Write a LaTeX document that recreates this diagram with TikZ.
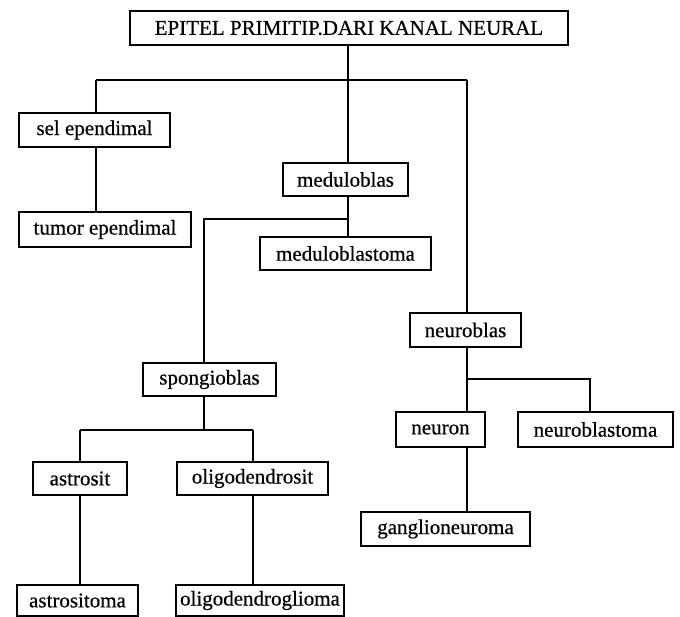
\documentclass[tikz,border=0pt]{standalone}
\usepackage{fontspec}
\setmainfont{Liberation Serif}
\newfontfamily\boxfont[FakeBold=0.5]{Liberation Serif}
\begin{document}
\begin{tikzpicture}[x=1pt,y={(0pt,-1pt)},
  box/.style={draw,line width=1.7pt,rectangle,inner sep=0pt,align=center,
    font=\boxfont\fontsize{21}{25}\selectfont},
  link/.style={line width=1.7pt}]
\useasboundingbox[fill=white] (0,0) rectangle (680,617);
% nodes
\node[box,minimum width=438pt,minimum height=34pt] (top) at (349,28) {EPITEL PRIMITIP.DARI KANAL NEURAL};
\node[box,minimum width=151pt,minimum height=34pt] (sel) at (94.5,130) {sel ependimal};
\node[box,minimum width=172pt,minimum height=35pt] (tum) at (105,229.5) {tumor ependimal};
\node[box,minimum width=125pt,minimum height=33pt] (medb) at (345.5,179.5) {meduloblas};
\node[box,minimum width=171pt,minimum height=33pt] (medbt) at (345.5,253.5) {meduloblastoma};
\node[box,minimum width=111pt,minimum height=34pt] (nb) at (465.5,330) {neuroblas};
\node[box,minimum width=133pt,minimum height=33pt] (sp) at (209.5,379.5) {spongioblas};
\node[box,minimum width=94pt,minimum height=33pt] (as) at (80,478.5) {astrosit};
\node[box,minimum width=151pt,minimum height=33pt] (ol) at (252.5,478.5) {oligodendrosit};
\node[box,minimum width=121pt,minimum height=31pt] (ast) at (77.5,600.5) {astrositoma};
\node[box,minimum width=168pt,minimum height=31pt] (olg) at (260,600.5) {oligodendroglioma};
\node[box,minimum width=89pt,minimum height=35pt] (neu) at (440.5,429.5) {neuron};
\node[box,minimum width=155pt,minimum height=35pt] (nbt) at (595.5,429.5) {neuroblastoma};
\node[box,minimum width=169pt,minimum height=34pt] (gan) at (445.5,529) {ganglioneuroma};
% junctions
\coordinate (jl) at (96,80);
\coordinate (jm) at (348,80);
\coordinate (jr) at (467,80);
\coordinate (ms) at (348,219);
\coordinate (sl) at (204,219);
\coordinate (sj) at (204,430);
\coordinate (al) at (80,430);
\coordinate (ar) at (253,430);
\coordinate (nj) at (467,379);
\coordinate (nr) at (590,379);
% connectors
\draw[link] (jl) -- (jr);
\draw[link] (top.south -| jm) -- (medb.north -| jm);
\draw[link] (jl) -- (sel.north -| jl);
\draw[link] (jr) -- (nb.north -| jr);
\draw[link] (sel.south -| jl) -- (tum.north -| jl);
\draw[link] (medb.south -| ms) -- (medbt.north -| ms);
\draw[link] (ms) -- (sl) -- (sp.north -| sl);
\draw[link] (sp.south -| sj) -- (sj);
\draw[link] (al) -- (ar);
\draw[link] (al) -- (as.north -| al);
\draw[link] (ar) -- (ol.north -| ar);
\draw[link] (as.south -| al) -- (ast.north -| al);
\draw[link] (ol.south -| ar) -- (olg.north -| ar);
\draw[link] (nb.south -| nj) -- (neu.north -| nj);
\draw[link] (nj) -- (nr) -- (nbt.north -| nr);
\draw[link] (neu.south -| nj) -- (gan.north -| nj);
\end{tikzpicture}
\end{document}
